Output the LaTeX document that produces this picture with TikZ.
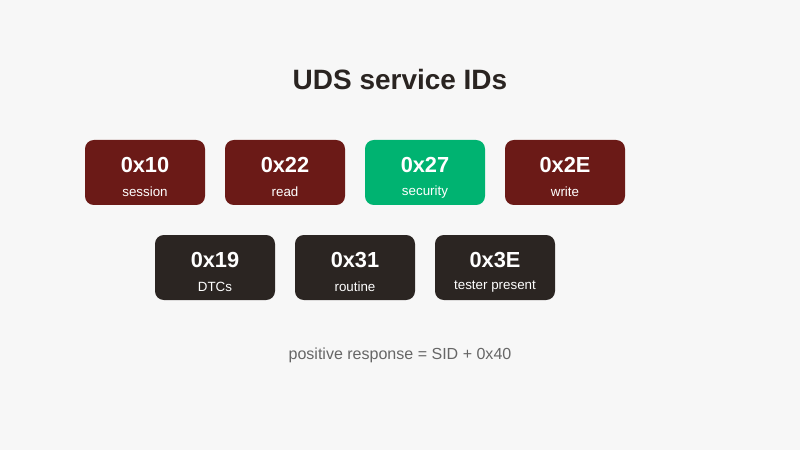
\documentclass[tikz,border=0pt]{standalone}
\usepackage{fontspec}
\setmainfont{Liberation Sans}
\usetikzlibrary{positioning}

\definecolor{bgcol}{HTML}{F7F7F7}
\definecolor{inkcol}{HTML}{2A2421}
\definecolor{redcol}{HTML}{6B1A17}
\definecolor{greencol}{HTML}{00B371}
\definecolor{darkcol}{HTML}{2B2522}
\definecolor{notecol}{HTML}{666666}

\begin{document}
\begin{tikzpicture}[
  sidbox/.style={rounded corners=0.22cm,minimum width=3cm,minimum height=1.625cm,inner sep=0pt},
  hexlbl/.style={text=white,font=\bfseries\fontsize{15.5}{18}\selectfont},
  namelbl/.style={text=white,font=\fontsize{9.5}{11}\selectfont}
]

\fill [bgcol] (0,0) rectangle (20,11.25) ;
\useasboundingbox (0,0) rectangle (20,11.25) ;

\node [text=inkcol,font=\bfseries\fontsize{19.9}{23}\selectfont] (title) at (10,9.25) {UDS service IDs} ;

% requests, top row
\foreach \name/\x/\col/\hex/\txt in {s10/3.625/redcol/0x10/session,s22/7.125/redcol/0x22/read,s27/10.625/greencol/0x27/security,s2E/14.125/redcol/0x2E/write}
{
  \node [sidbox,fill=\col] (\name) at (\x,6.9375) {} ;
  \node [hexlbl] at ([yshift=0.19cm]\name.center) {\hex} ;
  \node [namelbl] at ([yshift=-0.48cm]\name.center) {\txt} ;
}

% bottom row
\foreach \name/\x/\hex/\txt in {s19/5.375/0x19/DTCs,s31/8.875/0x31/routine,s3E/12.375/0x3E/tester present}
{
  \node [sidbox,fill=darkcol] (\name) at (\x,4.5625) {} ;
  \node [hexlbl] at ([yshift=0.19cm]\name.center) {\hex} ;
  \node [namelbl] at ([yshift=-0.48cm]\name.center) {\txt} ;
}

\node [text=notecol,font=\fontsize{11.4}{13}\selectfont] (note) at (10,2.375) {positive response = SID + 0x40} ;

\end{tikzpicture}
\end{document}
